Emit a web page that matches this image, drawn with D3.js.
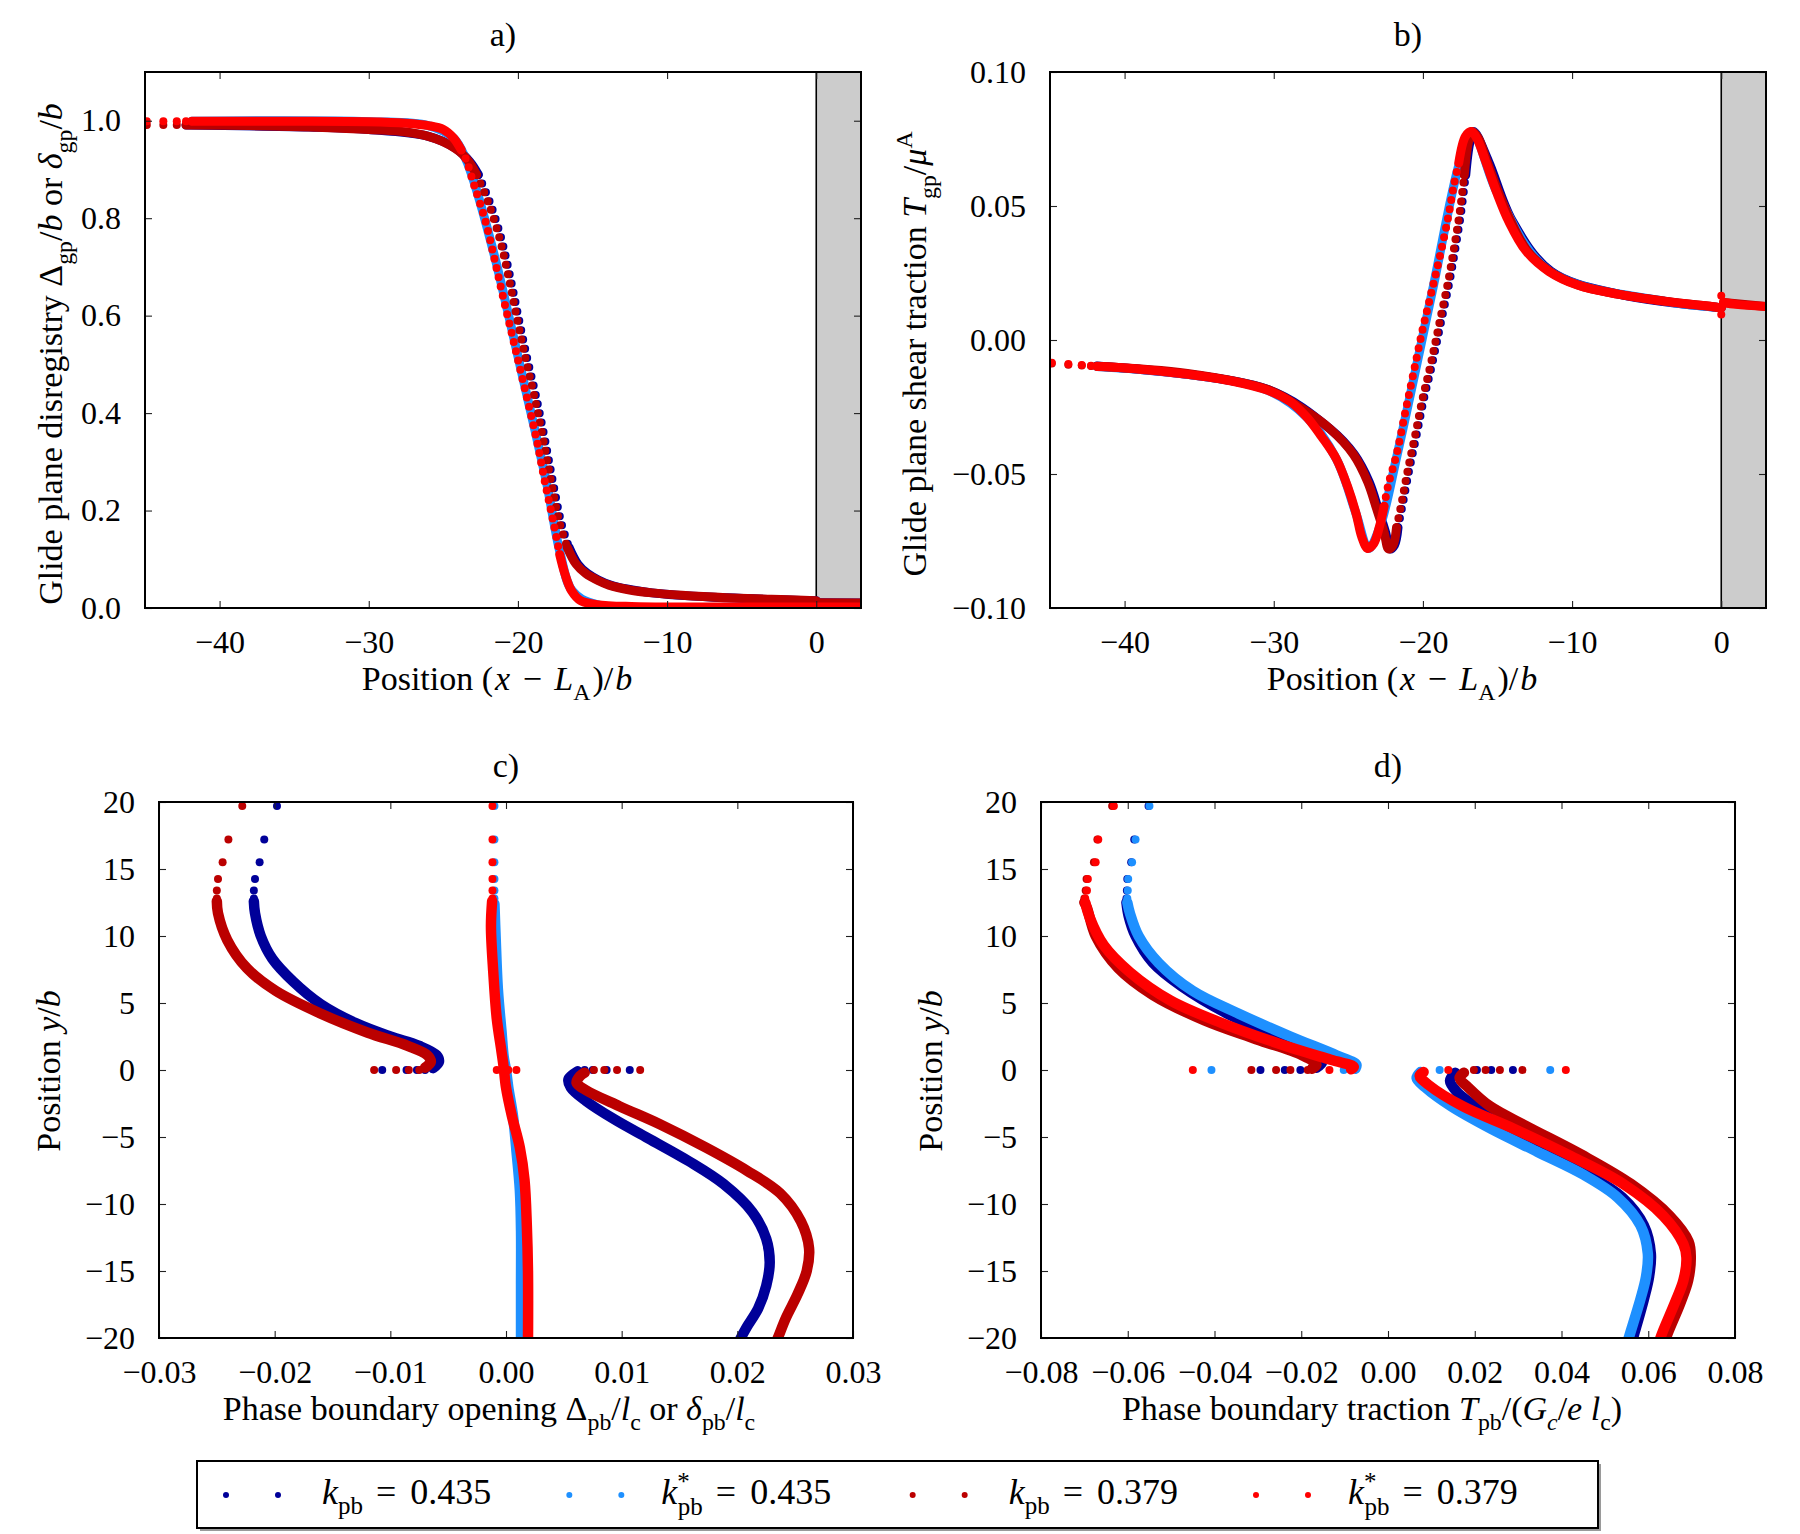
<!DOCTYPE html>
<meta charset="utf-8">
<title>Glide plane and phase boundary profiles</title>
<style>
body { margin: 0; background: #ffffff; }
svg { display: block; }
text { font-family: "Liberation Serif", "DejaVu Serif", serif; fill: #000; }
</style>
<svg width="1800" height="1534"></svg>
<script src="https://d3js.org/d3.v7.min.js"></script>
<script>

// ---------- data ----------
// series order (and legend order): k=0.435, k*=0.435, k=0.379, k*=0.379

// panel a) glide plane disregistry vs (x - L_A)/b
var aRedDots = [[-44.88,0.999],[-43.77,0.999],[-42.87,0.999],[-42.25,0.999],[-41.86,0.999]];
var aRedLine = [[-41.86,0.999],[-35,0.999],[-30,0.998],[-27.5,0.995],[-26,0.99],[-25,0.982],[-24.3,0.964],[-23.8,0.94]];
var aRedBeads = [[-23.8,0.94],[-23.5,0.922],[-22.96,0.870],[-22.19,0.795],[-21.6,0.720],[-21.04,0.644],[-20.46,0.569],[-19.88,0.494],[-19.3,0.419],[-18.73,0.343],[-18.2,0.26],[-17.65,0.18],[-17.2,0.11]];
var aRedTail = [[-17.2,0.11],[-16.85,0.07],[-16.4,0.035],[-15.8,0.015],[-14.7,0.007],[-12.4,0.003],[-8,0.002],[3,0.002]];
var aLightBlueLine = [[-41.86,0.999],[-30,0.998],[-26,0.99],[-24.3,0.964],[-23.5,0.922],[-22.9,0.870],[-21.55,0.72],[-19.83,0.494],[-18.1,0.26],[-17.15,0.11],[-16.35,0.035],[-14.7,0.007],[3,0.002]];
var aDarkRedDots = [[-44.88,0.991],[-43.77,0.991],[-42.87,0.991],[-42.25,0.991]];
var aDarkRedLine = [[-42.25,0.991],[-38,0.99],[-34,0.987],[-30,0.982],[-27.8,0.978],[-26,0.968],[-25.1,0.958],[-24.2,0.943],[-23.7,0.931],[-23.2,0.912],[-22.77,0.889]];
var aDarkRedBeads = [[-22.77,0.889],[-22.0,0.833],[-21.23,0.758],[-20.65,0.682],[-20.08,0.597],[-19.5,0.513],[-18.92,0.437],[-18.35,0.353],[-17.77,0.259],[-17.2,0.174],[-16.7,0.125]];
var aDarkRedTail = [[-16.7,0.125],[-16.1,0.09],[-15.46,0.071],[-14.6,0.056],[-13.9,0.047],[-12.5,0.037],[-11,0.031],[-9,0.026],[-6,0.021],[-3,0.018],[0,0.015]];
var aDarkRedAfter = [[0,0.011],[3,0.0105]];
var aBlueLine = [[-42.25,0.991],[-34,0.987],[-30,0.982],[-26,0.968],[-24.2,0.944],[-23.2,0.915],[-22.65,0.889]];
var aBlueBeads = [[-22.65,0.889],[-21.88,0.833],[-21.11,0.758],[-20.53,0.682],[-19.96,0.597],[-19.38,0.513],[-18.8,0.437],[-18.23,0.353],[-17.65,0.259],[-17.08,0.174],[-16.58,0.125]];
var aBlueTail = [[-16.58,0.125],[-15.98,0.09],[-15.34,0.071],[-13.8,0.047],[-11,0.031],[-6,0.021],[0,0.015]];
var aBlueAfter = [[0,0.011],[3,0.0105]];

// panel b) glide plane shear traction vs (x - L_A)/b
var bRedDots = [[-44.88,-0.0085],[-43.77,-0.009],[-42.87,-0.0093],[-42.25,-0.0096],[-41.86,-0.0098],[0,0.0165],[0,0.0095]];
var bRedLine = [[-41.86,-0.0099],[-39.7,-0.0105],[-35.8,-0.0128],[-32.75,-0.0154],[-30.4,-0.0188],[-28.9,-0.023],[-27.75,-0.029],[-26.8,-0.036],[-25.8,-0.0444],[-25.05,-0.0547],[-24.47,-0.065],[-24.1,-0.0735],[-23.7,-0.0778],[-23.3,-0.076],[-22.93,-0.070],[-22.6,-0.062]];
var bRedBeads = [[-22.6,-0.062],[-22.35,-0.0547],[-21.77,-0.0427],[-21.2,-0.0274],[-20.62,-0.012],[-20.04,0.0034],[-19.46,0.0171],[-18.88,0.0308],[-18.3,0.046],[-17.92,0.058],[-17.6,0.066]];
var bRedTail = [[-17.6,0.066],[-17.15,0.076],[-16.76,0.0778],[-16.38,0.0752],[-15.8,0.0667],[-15.03,0.0547],[-14.26,0.0444],[-13.1,0.0333],[-11.56,0.0256],[-9.64,0.0205],[-6.94,0.0171],[-3.86,0.0145],[-0.4,0.0123],[0,0.012]];
var bRedAfter = [[0.15,0.014],[1,0.0133],[3,0.0125]];
var bLightBlueLine = [[-41.86,-0.0099],[-35.8,-0.0128],[-30.4,-0.0188],[-27.75,-0.029],[-25.8,-0.0444],[-24.47,-0.065],[-23.65,-0.0778],[-22.9,-0.070],[-21.72,-0.0427],[-19.41,0.0171],[-17.55,0.066],[-16.7,0.0778],[-15.0,0.0547],[-11.5,0.0256],[-3.8,0.0145],[0,0.012]];
var bDarkRedDots = [[-44.88,-0.0088],[-43.77,-0.0092],[-42.87,-0.0095],[-42.25,-0.0097]];
var bDarkRedLine = [[-41.86,-0.0098],[-35.8,-0.0125],[-30.4,-0.0185],[-28.1,-0.0256],[-26.2,-0.0333],[-24.66,-0.0427],[-23.7,-0.053],[-23.1,-0.063],[-22.6,-0.0718],[-22.3,-0.078],[-22.0,-0.0765],[-21.77,-0.070]];
var bDarkRedBeads = [[-21.77,-0.070],[-21.4,-0.0598],[-21.0,-0.048],[-20.54,-0.036],[-20.04,-0.0222],[-19.46,-0.0085],[-18.88,0.0068],[-18.3,0.0222],[-17.92,0.0342],[-17.53,0.0479],[-17.23,0.0615]];
var bDarkRedTail = [[-17.23,0.0615],[-16.96,0.0735],[-16.7,0.0778],[-16.3,0.0755],[-15.7,0.0667],[-14.9,0.0547],[-14.1,0.0444],[-13.0,0.0333],[-11.5,0.0256],[-9.6,0.0205],[-6.9,0.0171],[-3.8,0.0145],[-0.4,0.0123],[0,0.012]];
var bDarkRedAfter = [[0.15,0.014],[3,0.0125]];
var bBlueLine = [[-41.86,-0.0097],[-30.4,-0.0185],[-26.2,-0.0333],[-24.6,-0.0427],[-23.6,-0.053],[-23.0,-0.063],[-22.5,-0.0718],[-22.2,-0.078],[-21.9,-0.0765],[-21.67,-0.070]];
var bBlueBeads = [[-21.67,-0.070],[-21.3,-0.0598],[-20.9,-0.048],[-20.44,-0.036],[-19.94,-0.0222],[-19.36,-0.0085],[-18.78,0.0068],[-18.2,0.0222],[-17.82,0.0342],[-17.43,0.0479],[-17.13,0.0615]];
var bBlueTail = [[-17.13,0.0615],[-16.86,0.0735],[-16.6,0.0778],[-15.6,0.0667],[-14.0,0.0444],[-11.4,0.0256],[-6.9,0.0171],[0,0.012]];

// panel c) phase boundary opening vs y/b
var cBlueLeftDots = [[-0.0198,19.7],[-0.0209,17.2],[-0.0213,15.5],[-0.0217,14.25],[-0.0218,13.4],[-0.0218,12.8],[-0.0070,0],[-0.0077,0],[-0.0086,0],[-0.0107,0]];
var cBlueLeft = [[-0.0218,12.6],[-0.0217,11.7],[-0.0212,10.0],[-0.0202,8.3],[-0.0184,6.6],[-0.016,4.9],[-0.013,3.5],[-0.010,2.5],[-0.0075,1.8],[-0.006,1.1],[-0.0058,0.6],[-0.0063,0.14]];
var cBlueRightDots = [[0.0107,0],[0.0087,0],[0.0075,0],[0.0068,0]];
var cBlueRight = [[0.0062,-0.1],[0.0059,-0.27],[0.0054,-0.7],[0.0056,-1.3],[0.0069,-2.3],[0.0094,-3.7],[0.0123,-5.1],[0.0158,-6.8],[0.0188,-8.5],[0.0213,-10.6],[0.0225,-12.6],[0.0228,-14.35],[0.0225,-16.1],[0.0218,-17.8],[0.0208,-19.2],[0.0203,-20],[0.0200,-20.6]];
var cLightBlueDots = [[-0.0010,19.7],[-0.0010,17.2],[-0.0010,15.5],[-0.0010,14.25],[-0.0010,13.4],[-0.0010,12.8]];
var cLightBlue = [[-0.0010,12.4],[-0.0009,10],[-0.0007,6],[-0.0004,3],[-0.0002,1],[0,0],[0.0002,-1.3],[0.0006,-3.4],[0.0009,-6],[0.0012,-9],[0.0013,-12],[0.0013,-16],[0.0013,-20.6]];
var cDarkRedLeftDots = [[-0.0228,19.7],[-0.0240,17.2],[-0.0245,15.5],[-0.0249,14.25],[-0.025,13.4],[-0.025,12.8],[-0.0075,0],[-0.0084,0],[-0.0095,0],[-0.0114,0]];
var cDarkRedLeft = [[-0.025,12.6],[-0.0249,11.7],[-0.0241,9.7],[-0.0224,7.6],[-0.0199,5.9],[-0.016,4.2],[-0.012,2.8],[-0.0085,1.8],[-0.0068,1.1],[-0.0065,0.6],[-0.007,0.17]];
var cDarkRedRightDots = [[0.0116,0],[0.0096,0],[0.0085,0],[0.0076,0]];
var cDarkRedRight = [[0.0068,-0.2],[0.0064,-0.45],[0.0061,-0.96],[0.0069,-1.5],[0.0098,-2.7],[0.0133,-4.05],[0.0173,-5.8],[0.0208,-7.5],[0.0237,-9.2],[0.0255,-11.3],[0.0262,-13.3],[0.026,-15.0],[0.0252,-16.75],[0.0242,-18.5],[0.0235,-20],[0.0232,-20.6]];
var cRedDots = [[-0.00117,19.7],[-0.00117,17.2],[-0.00117,15.5],[-0.00117,14.25],[-0.00117,13.4],[-0.00117,12.8],[-0.0008,0],[-0.0001,0],[0.0002,0],[0.0009,0]];
var cRed = [[-0.0012,12.6],[-0.0013,10.7],[-0.0011,7.3],[-0.0008,3.85],[-0.0004,1.44],[-0.0002,0.2],[0,-1.3],[0.0005,-3.4],[0.0012,-5.8],[0.0016,-8.2],[0.0018,-11.6],[0.0019,-15.0],[0.0019,-20.6]];

// panel d) phase boundary traction vs y/b
var dBlueLeftDots = [[-0.0552,19.7],[-0.0585,17.2],[-0.0592,15.5],[-0.0601,14.25],[-0.0602,13.4],[-0.0603,12.8],[-0.0202,0],[-0.0238,0],[-0.0294,0]];
var dBlueLeft = [[-0.0603,12.5],[-0.0598,11.5],[-0.0582,10.0],[-0.0542,8.0],[-0.0476,6.25],[-0.037,4.2],[-0.0251,2.5],[-0.0172,1.27],[-0.0152,0.58],[-0.0165,0.17]];
var dBlueRightDots = [[0.0288,0],[0.0238,0],[0.0205,0]];
var dBlueRight = [[0.0155,-0.2],[0.0143,-0.8],[0.0158,-1.6],[0.0200,-2.7],[0.0262,-4.2],[0.0355,-6.1],[0.046,-7.8],[0.054,-9.5],[0.059,-11.6],[0.0606,-13.7],[0.0602,-15.4],[0.059,-17.1],[0.0565,-20],[0.056,-20.6]];
var dLightBlueLeftDots = [[-0.055,19.7],[-0.0582,17.2],[-0.059,15.5],[-0.0599,14.25],[-0.06,13.4],[-0.0601,12.8],[-0.0102,0],[-0.0407,0]];
var dLightBlueLeft = [[-0.0601,12.5],[-0.0595,11.7],[-0.0575,10.0],[-0.0529,8.0],[-0.045,5.9],[-0.0344,4.2],[-0.0225,2.5],[-0.0119,1.1],[-0.0073,0.4],[-0.0075,0.1]];
var dLightBlueRightDots = [[0.0119,0],[0.0374,0]];
var dLightBlueRight = [[0.0075,-0.15],[0.0066,-0.6],[0.0086,-1.3],[0.0145,-2.7],[0.0238,-4.4],[0.0344,-6.1],[0.045,-7.8],[0.0529,-9.5],[0.0582,-11.6],[0.0599,-13.7],[0.0595,-15.4],[0.0582,-17.1],[0.0555,-20],[0.055,-20.6]];
var dDarkRedLeftDots = [[-0.0636,19.7],[-0.067,17.2],[-0.0678,15.5],[-0.0695,14.25],[-0.0697,13.4],[-0.07,12.8],[-0.0185,0],[-0.0225,0],[-0.0258,0],[-0.0315,0]];
var dDarkRedLeft = [[-0.07,12.5],[-0.0694,12.1],[-0.0674,10.0],[-0.0622,7.6],[-0.0542,5.6],[-0.0423,3.7],[-0.0304,2.3],[-0.0198,1.1],[-0.0165,0.4],[-0.0175,0.1]];
var dDarkRedRightDots = [[0.031,0],[0.0258,0],[0.0225,0],[0.0198,0]];
var dDarkRedRight = [[0.0175,-0.2],[0.0165,-0.6],[0.0185,-1.3],[0.0235,-2.7],[0.032,-4.2],[0.0445,-6.3],[0.056,-8.5],[0.065,-10.9],[0.0693,-12.8],[0.0698,-14.0],[0.0692,-15.7],[0.0674,-17.4],[0.0641,-20],[0.0637,-20.6]];
var dRedLeftDots = [[-0.0632,19.7],[-0.0668,17.2],[-0.0674,15.5],[-0.0692,14.25],[-0.0694,13.4],[-0.0698,12.8],[-0.0135,0],[-0.045,0]];
var dRedLeft = [[-0.0698,12.5],[-0.0688,11.4],[-0.0655,9.3],[-0.0595,7.3],[-0.0502,5.2],[-0.0383,3.5],[-0.0251,1.96],[-0.0132,0.76],[-0.0079,0.24],[-0.0085,0.05]];
var dRedRightDots = [[0.0139,0],[0.041,0]];
var dRedRight = [[0.0082,-0.15],[0.0073,-0.45],[0.0093,-1.1],[0.0172,-2.7],[0.0291,-4.4],[0.0423,-6.45],[0.0542,-8.5],[0.0635,-10.9],[0.0681,-13.0],[0.0688,-14.0],[0.0681,-15.7],[0.0661,-17.4],[0.0628,-20],[0.0624,-20.6]];

// ticks
var abXTicks = [-40, -30, -20, -10, 0];
var aYTicks = [0, 0.2, 0.4, 0.6, 0.8, 1.0];
var bYTicks = [-0.10, -0.05, 0, 0.05, 0.10];
var cdYTicks = [-20, -15, -10, -5, 0, 5, 10, 15, 20];
var cXTicks = [-0.03, -0.02, -0.01, 0, 0.01, 0.02, 0.03];
var dXTicks = [-0.08, -0.06, -0.04, -0.02, 0, 0.02, 0.04, 0.06, 0.08];

// legend
var legendStar = [false, true, false, true];
var legendValue = ["0.435", "0.435", "0.379", "0.379"];

// ---------- styling ----------
var colBlue = "#000099", colLightBlue = "#1e90ff", colDarkRed = "#bb0000", colRed = "#ff0000";
var dotR = 4;
var tickFont = 32, labelFont = 34;

var svg = d3.select("svg");
svg.append("rect").attr("width", 1800).attr("height", 1534).attr("fill", "#fff");

// text with italic parts, sub- and superscripts
function rich(sel, parts, size) {
  var shift = 0;
  parts.forEach(function(p) {
    var t = sel.append("tspan").text(p.t);
    var target = p.sub ? 0.3 * size : (p.sup ? -0.4 * size : 0);
    if (target - shift !== 0) t.attr("dy", target - shift);
    shift = target;
    if (p.sub || p.sup) t.attr("font-size", 0.7 * size);
    if (p.i) t.attr("font-style", "italic");
    if (p.dx) t.attr("dx", p.dx);
  });
  return sel;
}

function drawPanel(p) {
  var x = d3.scaleLinear().domain(p.xDomain).range([p.left, p.right]);
  var y = d3.scaleLinear().domain(p.yDomain).range([p.bottom, p.top]);
  var g = svg.append("g");

  g.append("clipPath").attr("id", "clip-" + p.name)
    .append("rect")
      .attr("x", p.left).attr("y", p.top)
      .attr("width", p.right - p.left).attr("height", p.bottom - p.top);

  // grey region beyond the phase boundary
  if (p.shadeFrom !== undefined) {
    g.append("rect")
      .attr("x", x(p.shadeFrom)).attr("y", p.top)
      .attr("width", p.right - x(p.shadeFrom)).attr("height", p.bottom - p.top)
      .attr("fill", "#cccccc");
    g.append("line")
      .attr("x1", x(p.shadeFrom)).attr("x2", x(p.shadeFrom))
      .attr("y1", p.top).attr("y2", p.bottom)
      .attr("stroke", "#000").attr("stroke-width", 1.6);
  }

  var plot = g.append("g").attr("clip-path", "url(#clip-" + p.name + ")");
  var line = d3.line()
      .x(function(d) { return x(d[0]); })
      .y(function(d) { return y(d[1]); })
      .curve(d3.curveCatmullRom.alpha(0.5));

  p.series.forEach(function(s) {
    (s.lines || []).forEach(function(pts) {
      plot.append("path")
        .attr("d", line(pts))
        .attr("fill", "none")
        .attr("stroke", s.color)
        .attr("stroke-width", p.bandW)
        .attr("stroke-linecap", "round")
        .attr("stroke-linejoin", "round");
    });
    // steep parts: the markers separate into beads
    (s.beads || []).forEach(function(pts) {
      plot.append("path")
        .attr("d", line(pts))
        .attr("fill", "none")
        .attr("stroke", s.color)
        .attr("stroke-width", 2 * dotR)
        .attr("stroke-linecap", "round")
        .attr("stroke-dasharray", "0 9.5");
    });
    plot.selectAll(null)
      .data(s.dots || [])
      .enter().append("circle")
        .attr("cx", function(d) { return x(d[0]); })
        .attr("cy", function(d) { return y(d[1]); })
        .attr("r", dotR)
        .attr("fill", s.color);
  });

  // axes with inward ticks on all four sides
  function styleAxis(ax) {
    ax.select(".domain").remove();
    ax.selectAll(".tick line").attr("stroke", "#222").attr("stroke-width", 1.1);
    ax.selectAll("text")
      .attr("font-family", "Liberation Serif, serif")
      .attr("font-size", tickFont)
      .attr("fill", "#000");
  }
  var ax;
  ax = g.append("g").attr("transform", "translate(0," + p.bottom + ")")
    .call(d3.axisBottom(x).tickValues(p.xTicks).tickFormat(p.xFormat).tickSizeInner(-7).tickSizeOuter(0).tickPadding(22));
  styleAxis(ax);
  ax = g.append("g").attr("transform", "translate(0," + p.top + ")")
    .call(d3.axisTop(x).tickValues(p.xTicks).tickFormat("").tickSizeInner(-7).tickSizeOuter(0));
  styleAxis(ax);
  ax = g.append("g").attr("transform", "translate(" + p.left + ",0)")
    .call(d3.axisLeft(y).tickValues(p.yTicks).tickFormat(p.yFormat).tickSizeInner(-7).tickSizeOuter(0).tickPadding(24));
  styleAxis(ax);
  ax = g.append("g").attr("transform", "translate(" + p.right + ",0)")
    .call(d3.axisRight(y).tickValues(p.yTicks).tickFormat("").tickSizeInner(-7).tickSizeOuter(0));
  styleAxis(ax);

  g.append("rect")
    .attr("x", p.left).attr("y", p.top)
    .attr("width", p.right - p.left).attr("height", p.bottom - p.top)
    .attr("fill", "none").attr("stroke", "#000").attr("stroke-width", 2);

  // title
  g.append("text")
    .attr("x", (p.left + p.right) / 2).attr("y", p.titleY)
    .attr("text-anchor", "middle").attr("font-size", labelFont)
    .text(p.title);

  // x label
  rich(g.append("text")
      .attr("x", p.xLabelX).attr("y", p.bottom + 82)
      .attr("text-anchor", "middle").attr("font-size", labelFont),
    p.xLabel, labelFont);

  // y label
  rich(g.append("text")
      .attr("transform", "translate(" + p.yLabelX + "," + p.yLabelY + ") rotate(-90)")
      .attr("text-anchor", "middle").attr("font-size", labelFont),
    p.yLabel, labelFont);
}

var posLabel = [{t: "Position ("}, {t: "x", i: 1, dx: 2}, {t: " − ", dx: 4}, {t: "L", i: 1, dx: 4}, {t: "A", sub: 1}, {t: ")/", dx: 2}, {t: "b", i: 1, dx: 2}];

drawPanel({
  name: "a", title: "a)", titleY: 46,
  left: 145, right: 861, top: 72, bottom: 608, bandW: 9,
  xDomain: [-45, 3], yDomain: [0, 1.1],
  xTicks: abXTicks, yTicks: aYTicks,
  xFormat: d3.format("d"), yFormat: d3.format(".1f"),
  shadeFrom: 0,
  xLabel: posLabel, xLabelX: 497,
  yLabel: [{t: "Glide plane disregistry Δ"}, {t: "gp", sub: 1}, {t: "/"}, {t: "b", i: 1}, {t: " or "}, {t: "δ", i: 1}, {t: "gp", sub: 1}, {t: "/"}, {t: "b", i: 1}],
  yLabelX: 62, yLabelY: 354,
  series: [
    {color: colBlue, lines: [aBlueLine, aBlueTail, aBlueAfter], beads: [aBlueBeads]},
    {color: colLightBlue, lines: [aLightBlueLine]},
    {color: colDarkRed, lines: [aDarkRedLine, aDarkRedTail, aDarkRedAfter], beads: [aDarkRedBeads], dots: aDarkRedDots},
    {color: colRed, lines: [aRedLine, aRedTail], beads: [aRedBeads], dots: aRedDots}
  ]
});

drawPanel({
  name: "b", title: "b)", titleY: 46,
  left: 1050, right: 1766, top: 72, bottom: 608, bandW: 9,
  xDomain: [-45, 3], yDomain: [-0.1, 0.1],
  xTicks: abXTicks, yTicks: bYTicks,
  xFormat: d3.format("d"), yFormat: d3.format(".2f"),
  shadeFrom: 0,
  xLabel: posLabel, xLabelX: 1402,
  yLabel: [{t: "Glide plane shear traction "}, {t: "T", i: 1}, {t: "gp", sub: 1}, {t: "/"}, {t: "μ", i: 1}, {t: "A", sup: 1}],
  yLabelX: 926, yLabelY: 354,
  series: [
    {color: colBlue, lines: [bBlueLine, bBlueTail], beads: [bBlueBeads]},
    {color: colLightBlue, lines: [bLightBlueLine]},
    {color: colDarkRed, lines: [bDarkRedLine, bDarkRedTail, bDarkRedAfter], beads: [bDarkRedBeads], dots: bDarkRedDots},
    {color: colRed, lines: [bRedLine, bRedTail, bRedAfter], beads: [bRedBeads], dots: bRedDots}
  ]
});

var yPosLabel = [{t: "Position "}, {t: "y", i: 1}, {t: "/"}, {t: "b", i: 1}];

drawPanel({
  name: "c", title: "c)", titleY: 777,
  left: 159, right: 853, top: 802, bottom: 1338, bandW: 10.5,
  xDomain: [-0.03, 0.03], yDomain: [-20, 20],
  xTicks: cXTicks, yTicks: cdYTicks,
  xFormat: d3.format(".2f"), yFormat: d3.format("d"),
  xLabel: [{t: "Phase boundary opening Δ"}, {t: "pb", sub: 1}, {t: "/"}, {t: "l", i: 1}, {t: "c", sub: 1}, {t: " or "}, {t: "δ", i: 1}, {t: "pb", sub: 1}, {t: "/"}, {t: "l", i: 1}, {t: "c", sub: 1}],
  xLabelX: 489,
  yLabel: yPosLabel,
  yLabelX: 60, yLabelY: 1071,
  series: [
    {color: colBlue, lines: [cBlueLeft, cBlueRight], dots: cBlueLeftDots.concat(cBlueRightDots)},
    {color: colLightBlue, lines: [cLightBlue], dots: cLightBlueDots},
    {color: colDarkRed, lines: [cDarkRedLeft, cDarkRedRight], dots: cDarkRedLeftDots.concat(cDarkRedRightDots)},
    {color: colRed, lines: [cRed], dots: cRedDots}
  ]
});

drawPanel({
  name: "d", title: "d)", titleY: 777,
  left: 1041, right: 1735, top: 802, bottom: 1338, bandW: 10.5,
  xDomain: [-0.08, 0.08], yDomain: [-20, 20],
  xTicks: dXTicks, yTicks: cdYTicks,
  xFormat: d3.format(".2f"), yFormat: d3.format("d"),
  xLabel: [{t: "Phase boundary traction "}, {t: "T", i: 1}, {t: "pb", sub: 1}, {t: "/("}, {t: "G", i: 1}, {t: "c", sub: 1, i: 1}, {t: "/"}, {t: "e", i: 1}, {t: " "}, {t: "l", i: 1}, {t: "c", sub: 1}, {t: ")"}],
  xLabelX: 1372,
  yLabel: yPosLabel,
  yLabelX: 942, yLabelY: 1071,
  series: [
    {color: colBlue, lines: [dBlueLeft, dBlueRight], dots: dBlueLeftDots.concat(dBlueRightDots)},
    {color: colLightBlue, lines: [dLightBlueLeft, dLightBlueRight], dots: dLightBlueLeftDots.concat(dLightBlueRightDots)},
    {color: colDarkRed, lines: [dDarkRedLeft, dDarkRedRight], dots: dDarkRedLeftDots.concat(dDarkRedRightDots)},
    {color: colRed, lines: [dRedLeft, dRedRight], dots: dRedLeftDots.concat(dRedRightDots)}
  ]
});

// ---------- legend ----------
var legendColors = [colBlue, colLightBlue, colDarkRed, colRed];
var leg = svg.append("g");
leg.append("rect").attr("x", 200).attr("y", 1464).attr("width", 1401).attr("height", 67).attr("fill", "#9a9a9a");
leg.append("rect").attr("x", 197).attr("y", 1461).attr("width", 1401).attr("height", 67)
  .attr("fill", "#fff").attr("stroke", "#000").attr("stroke-width", 2);

var legX = d3.scalePoint().domain(d3.range(4)).range([226, 1256]);
legendColors.forEach(function(c, i) {
  var x0 = legX(i);
  leg.append("circle").attr("cx", x0).attr("cy", 1495).attr("r", 3).attr("fill", c);
  leg.append("circle").attr("cx", x0 + 52).attr("cy", 1495).attr("r", 3).attr("fill", c);
  var t = leg.append("text").attr("x", x0 + 96 - (legendStar[i] ? 4 : 0)).attr("y", 1504).attr("font-size", 36);
  t.append("tspan").attr("font-style", "italic").text("k");
  if (legendStar[i]) {
    t.append("tspan").attr("font-size", 25).attr("dy", -14).text("*");
    t.append("tspan").attr("font-size", 25).attr("dy", 25).attr("dx", -12).text("pb");
    t.append("tspan").attr("dy", -11).attr("dx", 13).text("=");
  } else {
    t.append("tspan").attr("font-size", 25).attr("dy", 10).text("pb");
    t.append("tspan").attr("dy", -10).attr("dx", 13).text("=");
  }
  t.append("tspan").attr("dx", 14).text(legendValue[i]);
});

</script>
